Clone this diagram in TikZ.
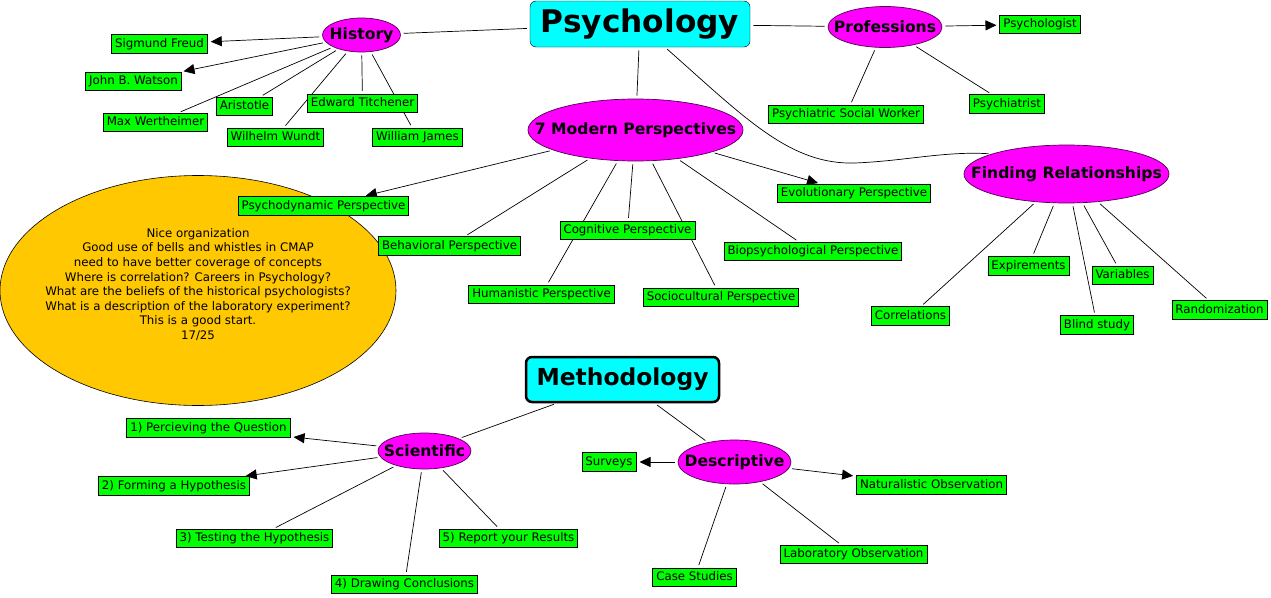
\documentclass[tikz,border=0pt]{standalone}
\usepackage{fontspec}
\setmainfont{DejaVu Sans}
\usetikzlibrary{shapes.geometric,arrows.meta,backgrounds}
\definecolor{leafgreen}{HTML}{00FF00}
\definecolor{topicpink}{HTML}{FF00FF}
\definecolor{rootcyan}{HTML}{00FFFF}
\definecolor{notegold}{HTML}{FFC800}
\definecolor{rimpurple}{HTML}{4D004D}
\newcommand{\ctr}[1]{\makebox[0pt]{#1}}
\tikzset{
leaf/.style={draw=black,line width=0.8pt,fill=leafgreen,inner xsep=3.5pt,inner ysep=3.5pt,text height=8.8pt,text depth=2.6pt,font=\fontsize{11.8}{14}\selectfont},
topic/.style={ellipse,draw=rimpurple,line width=0.7pt,fill=topicpink,inner sep=0pt,font=\bfseries\fontsize{15.6}{18}\selectfont},
root/.style={draw=black,fill=rootcyan,rounded corners=6pt,inner sep=0pt},
link/.style={line width=0.7pt,shorten <=3pt,shorten >=3pt},
arrow/.style={link,-{Triangle[length=11pt,width=10pt]}}
}
\begin{document}
\begin{tikzpicture}[x=1pt,y=-1pt]
\useasboundingbox (0,0) rectangle (1271,597);
\node[ellipse,draw=black,line width=0.6pt,fill=notegold,minimum width=396pt,minimum height=230pt,inner sep=0pt] (note) at (198,290.5) {\ctr{\raisebox{2pt}[0pt][0pt]{\fontsize{11.8}{14.6}\selectfont\begin{tabular}{@{}c@{}}Nice organization\\Good use of bells and whistles in CMAP\\need to have better coverage of concepts\\Where is correlation? Careers in Psychology?\\What are the beliefs of the historical psychologists?\\What is a description of the laboratory experiment?\\This is a good start.\\17/25\end{tabular}}}};
\node[root,minimum width=220pt,minimum height=46pt,font=\bfseries\fontsize{31.2}{36}\selectfont] (psych) at (640,24) {Psychology};
\node[topic,minimum width=78pt,minimum height=34pt] (history) at (361.5,35) {\ctr{History}};
\node[topic,minimum width=114pt,minimum height=41pt] (profs) at (885,27) {\ctr{Professions}};
\node[topic,minimum width=215pt,minimum height=62pt] (modern) at (635.5,130) {\ctr{7 Modern Perspectives}};
\node[topic,minimum width=205pt,minimum height=58pt] (relations) at (1066.5,174) {\ctr{Finding Relationships}};
\node[leaf] (freud) at (159.5,44) {Sigmund Freud};
\node[leaf] (watson) at (133.5,81.5) {John B. Watson};
\node[leaf] (wertheimer) at (155.5,122.5) {Max Wertheimer};
\node[leaf] (aristotle) at (244.5,106.5) {Aristotle};
\node[leaf] (titchener) at (362.5,103.5) {Edward Titchener};
\node[leaf] (wundt) at (275.5,137.5) {Wilhelm Wundt};
\node[leaf] (james) at (417.5,137.5) {William James};
\node[leaf] (psychologist) at (1040,24.5) {Psychologist};
\node[leaf] (socialworker) at (846,114.5) {Psychiatric Social Worker};
\node[leaf] (psychiatrist) at (1007,104) {Psychiatrist};
\node[leaf] (psychodyn) at (323.5,206) {Psychodynamic Perspective};
\node[leaf] (behavioral) at (449.5,246) {Behavioral Perspective};
\node[leaf] (cognitive) at (627.5,230.5) {Cognitive Perspective};
\node[leaf] (humanistic) at (541.5,294.5) {Humanistic Perspective};
\node[leaf] (sociocult) at (721,297.5) {Sociocultural Perspective};
\node[leaf] (biopsych) at (813,251.5) {Biopsychological Perspective};
\node[leaf] (evolution) at (854,193.5) {Evolutionary Perspective};
\node[leaf] (expire) at (1028.5,266) {Expirements};
\node[leaf] (variables) at (1122.5,275.5) {Variables};
\node[leaf] (correl) at (910.5,316) {Correlations};
\node[leaf] (blind) at (1097,325) {Blind study};
\node[leaf] (random) at (1219.5,310) {Randomization};
\node[root,line width=2.5pt,minimum width=193pt,minimum height=45pt,font=\bfseries\fontsize{23.4}{28}\selectfont] (method) at (622.5,379.5) {Methodology};
\node[topic,minimum width=93pt,minimum height=36pt] (scientific) at (424.5,451) {\ctr{Scientific}};
\node[topic,minimum width=113pt,minimum height=44pt] (descriptive) at (734.5,462) {\ctr{Descriptive}};
\node[leaf] (q1) at (208.5,428) {1) Percieving the Question};
\node[leaf] (q2) at (174,486) {2) Forming a Hypothesis};
\node[leaf] (q3) at (254.5,538.5) {3) Testing the Hypothesis};
\node[leaf] (q4) at (404.5,584.5) {4) Drawing Conclusions};
\node[leaf] (q5) at (508.5,538.5) {5) Report your Results};
\node[leaf] (surveys) at (609,462) {Surveys};
\node[leaf] (natural) at (931.5,485) {Naturalistic Observation};
\node[leaf] (lab) at (853.5,554.5) {Laboratory Observation};
\node[leaf] (cases) at (694.5,577.5) {Case Studies};
\coordinate (dip) at (855,163);
\begin{scope}[on background layer]
\draw[link] (psych) -- (history);
\draw[link] (psych) -- (profs);
\draw[link] (psych) -- (modern);
\draw[link] ([xshift=25pt]psych.south) .. controls (745,118) and (790,165) .. (dip) .. controls (905,161) and (945,151) .. (relations.165);
\draw[arrow] (history) -- (freud);
\draw[arrow] (history) -- (watson);
\draw[link] (history) -- (wertheimer);
\draw[link] (history) -- (aristotle);
\draw[link] (history) -- (wundt);
\draw[link] (history) -- (titchener);
\draw[link] (history) -- (james);
\draw[arrow] (profs) -- (psychologist);
\draw[link] (profs) -- (socialworker);
\draw[link] (profs) -- (psychiatrist);
\draw[arrow] (modern) -- (psychodyn);
\draw[link] (modern) -- (behavioral);
\draw[link] (modern) -- (humanistic);
\draw[link] (modern) -- (cognitive);
\draw[link] (modern) -- (sociocult);
\draw[link] (modern) -- (biopsych);
\draw[arrow] (modern) -- (evolution);
\draw[link] (relations) -- (correl);
\draw[link] (relations) -- (expire);
\draw[link] (relations) -- (blind);
\draw[link] (relations) -- (variables);
\draw[link] (relations) -- (random);
\draw[link] (method) -- (scientific);
\draw[link] (method) -- (descriptive);
\draw[arrow] (scientific) -- (q1);
\draw[arrow] (scientific) -- (q2);
\draw[link] (scientific) -- (q3);
\draw[link] (scientific) -- (q4);
\draw[link] (scientific) -- (q5);
\draw[arrow] (descriptive) -- (surveys);
\draw[arrow] (descriptive) -- (natural);
\draw[link] (descriptive) -- (lab);
\draw[link] (descriptive) -- (cases);
\end{scope}
\end{tikzpicture}
\end{document}
